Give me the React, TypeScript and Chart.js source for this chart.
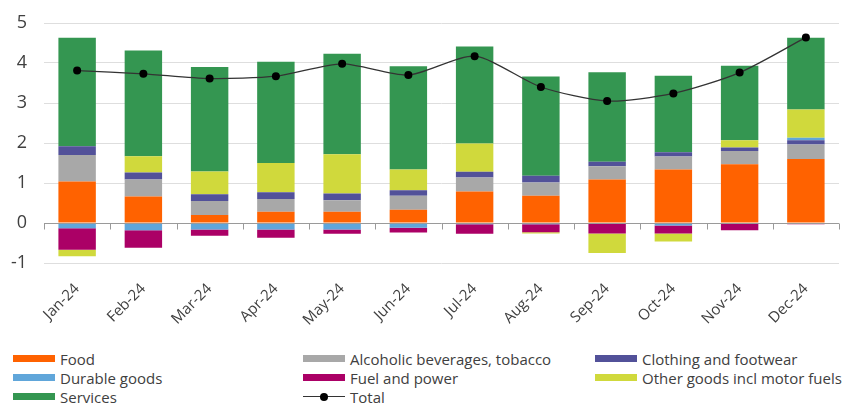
import { useEffect, useRef } from 'react';
import { Chart, registerables } from 'chart.js';
Chart.register(...registerables);

const months = ['Jan-24', 'Feb-24', 'Mar-24', 'Apr-24', 'May-24', 'Jun-24', 'Jul-24', 'Aug-24', 'Sep-24', 'Oct-24', 'Nov-24', 'Dec-24'];
const food = [1.04, 0.66, 0.2, 0.28, 0.28, 0.33, 0.79, 0.68, 1.09, 1.34, 1.47, 1.6];
const alcohol = [0.66, 0.43, 0.35, 0.32, 0.29, 0.35, 0.35, 0.33, 0.33, 0.32, 0.33, 0.36];
const clothing = [0.22, 0.17, 0.17, 0.17, 0.17, 0.14, 0.14, 0.17, 0.11, 0.11, 0.09, 0.11];
const durable = [-0.13, -0.18, -0.16, -0.16, -0.16, -0.12, -0.03, -0.03, -0.02, -0.06, 0, 0.06];
const fuel = [-0.54, -0.44, -0.16, -0.21, -0.11, -0.12, -0.24, -0.2, -0.24, -0.2, -0.18, -0.03];
const other = [-0.16, 0.41, 0.57, 0.73, 0.98, 0.52, 0.71, -0.03, -0.49, -0.2, 0.18, 0.71];
const services = [2.71, 2.64, 2.61, 2.53, 2.51, 2.58, 2.42, 2.48, 2.24, 1.91, 1.86, 1.79];
const total = [3.81, 3.73, 3.61, 3.67, 3.98, 3.7, 4.17, 3.4, 3.05, 3.24, 3.76, 4.64];

const barLabels = ['Food', 'Alcoholic beverages, tobacco', 'Clothing and footwear', 'Durable goods', 'Fuel and power', 'Other goods incl motor fuels', 'Services'];
const barSeries = [food, alcohol, clothing, durable, fuel, other, services];
const barColors = ['#FF6200', '#A8A8A8', '#525199', '#60A6DA', '#AB0066', '#D0D93C', '#349651'];
const totalLabel = 'Total';
const yTicks = [-1, 0, 1, 2, 3, 4, 5];

const FONT = '"Open Sans", sans-serif';
const TEXT = '#404040';

const zeroAxisPlugin = {
  id: 'zeroAxis',
  afterDatasetsDraw(chart: any) {
    const { ctx, scales, chartArea } = chart;
    const x = scales.x;
    const y0 = Math.round(scales.y.getPixelForValue(0)) + 0.5;
    ctx.save();
    ctx.strokeStyle = '#9a9a9a';
    ctx.lineWidth = 1;
    ctx.beginPath();
    ctx.moveTo(chartArea.left, y0);
    ctx.lineTo(chartArea.right, y0);
    const n = months.length;
    for (let i = 0; i <= n; i++) {
      let px: number;
      if (i === 0) px = chartArea.left;
      else if (i === n) px = chartArea.right;
      else px = (x.getPixelForValue(i - 1) + x.getPixelForValue(i)) / 2;
      px = Math.round(px) + 0.5;
      ctx.moveTo(px, y0);
      ctx.lineTo(px, y0 + 6);
    }
    ctx.stroke();
    ctx.restore();
  },
};

export default function App() {
  const ref = useRef<HTMLCanvasElement>(null);
  useEffect(() => {
    const datasets: any[] = barSeries.map((d, i) => ({
      type: 'bar',
      label: barLabels[i],
      data: d,
      backgroundColor: barColors[i],
      borderWidth: 0,
      stack: 'a',
      order: 1,
      categoryPercentage: 1,
      barPercentage: 0.565,
    }));
    datasets.push({
      type: 'line',
      label: totalLabel,
      data: total,
      borderColor: '#333333',
      borderWidth: 1.3,
      pointRadius: 4,
      pointBackgroundColor: '#000',
      pointBorderColor: '#000',
      pointBorderWidth: 0,
      tension: 0.25,
      stack: 'total',
      order: 0,
    });
    const chart = new Chart(ref.current!, {
      type: 'bar',
      data: { labels: months, datasets },
      plugins: [zeroAxisPlugin],
      options: {
        animation: false,
        responsive: false,
        layout: { padding: { top: 23, right: 0, left: 0, bottom: 0 } },
        plugins: { legend: { display: false }, tooltip: { enabled: false } },
        scales: {
          x: {
            stacked: true,
            grid: { display: false },
            border: { display: false },
            ticks: {
              minRotation: 45,
              maxRotation: 45,
              padding: 9,
              color: TEXT,
              font: { family: FONT, size: 15 },
            },
            afterFit: (s: any) => {
              s.height = 82;
              s.paddingLeft = 0;
              s.paddingRight = 0;
            },
          },
          y: {
            stacked: true,
            min: -1,
            max: 5,
            afterBuildTicks: (s: any) => { s.ticks = yTicks.map((v) => ({ value: v })); },
            grid: { color: '#dedede', lineWidth: 1, drawTicks: false },
            border: { display: false },
            ticks: { padding: 17, color: TEXT, font: { family: FONT, size: 18 } },
            afterFit: (s: any) => {
              s.width = 44;
              s.paddingTop = 0;
              s.paddingBottom = 0;
            },
          },
        },
      } as any,
    });
    return () => chart.destroy();
  }, []);

  const legendItems = [
    { label: barLabels[0], color: barColors[0] },
    { label: barLabels[1], color: barColors[1] },
    { label: barLabels[2], color: barColors[2] },
    { label: barLabels[3], color: barColors[3] },
    { label: barLabels[4], color: barColors[4] },
    { label: barLabels[5], color: barColors[5] },
    { label: barLabels[6], color: barColors[6] },
    { label: totalLabel, color: null },
  ];

  return (
    <div style={{ position: 'absolute', left: 0, top: 0, width: 843, height: 403, background: '#fff', overflow: 'hidden' }}>
      <canvas ref={ref} width={843} height={345} style={{ display: 'block' }} />
      <div
        style={{
          position: 'absolute',
          left: 13,
          top: 349,
          display: 'grid',
          gridTemplateColumns: '290px 292px 250px',
          gridAutoRows: '19px',
          fontFamily: FONT,
          fontSize: 15,
          color: TEXT,
        }}
      >
        {legendItems.map((it) => (
          <div key={it.label} style={{ display: 'flex', alignItems: 'center', whiteSpace: 'nowrap' }}>
            {it.color ? (
              <span style={{ display: 'inline-block', width: 42, height: 7, background: it.color, marginRight: 5 }} />
            ) : (
              <span style={{ position: 'relative', display: 'inline-block', width: 42, height: 7, marginRight: 5 }}>
                <span style={{ position: 'absolute', left: 0, right: 0, top: 3, height: 1.3, background: '#333' }} />
                <span style={{ position: 'absolute', left: 17, top: 0, width: 8, height: 8, borderRadius: 4, background: '#000' }} />
              </span>
            )}
            <span>{it.label}</span>
          </div>
        ))}
      </div>
    </div>
  );
}
